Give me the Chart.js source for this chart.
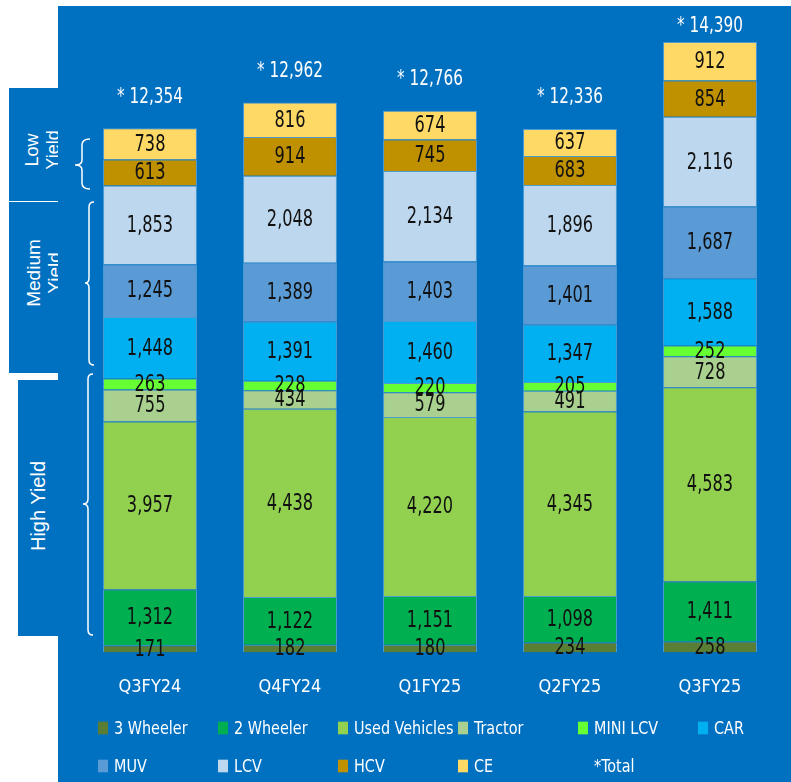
<!DOCTYPE html>
<html>
<head>
<meta charset="utf-8">
<script src="https://cdn.jsdelivr.net/npm/chart.js@4.4.1/dist/chart.umd.min.js"></script>
<style>
  html, body { margin: 0; padding: 0; background: #fff; }
  body { width: 791px; height: 782px; position: relative; overflow: hidden;
         font-family: "DejaVu Sans Condensed", sans-serif; }
  #panel { position: absolute; left: 58px; top: 6px; right: 0; bottom: 0; background: #0070C0; }
  .yield { position: absolute; background: #0070C0; overflow: hidden; color: #fff;
           font-family: "Liberation Sans", Arial, sans-serif; }
  .yield span { position: absolute; transform: translate(-50%, -50%) rotate(-90deg);
                white-space: nowrap; text-align: center; line-height: 21px; }
  #chart { position: absolute; left: 0; top: 0; }
  #brackets { position: absolute; left: 0; top: 0; pointer-events: none; }
  .lg { position: absolute; color: #fff; font-size: 16px; white-space: nowrap;
        transform: translateY(-50%) scaleY(1.15); display: flex; align-items: center; }
  .lg i { display: inline-block; width: 10px; height: 11px; margin-right: 6px; }
</style>
</head>
<body>
<div id="panel"></div>

<div class="yield" style="left:9px;top:88px;width:49px;height:113px;">
  <span style="left:34px;top:62px;font-size:18px;">Low<br>Yield</span>
</div>
<div class="yield" style="left:9px;top:202px;width:49px;height:171px;">
  <span style="left:35px;top:71px;font-size:19px;">Medium<br>Yield</span>
</div>
<div class="yield" style="left:18px;top:380px;width:40px;height:256px;">
  <span style="left:20px;top:126px;font-size:20px;">High Yield</span>
</div>

<canvas id="chart" width="791" height="782"></canvas>

<svg id="brackets" width="791" height="782">
  <g fill="none" stroke="#fff" stroke-width="1.5">
    <path d="M90,139 Q82,139 82,145 L82,160 Q82,165 75,165 Q82,165 82,170 L82,183 Q82,189 90,189"/>
    <path d="M94,202 Q89,202 89,207 L89,278 Q89,283 85,283 Q89,283 89,288 L89,360 Q89,365 94,365"/>
    <path d="M93,374 Q88,374 88,379 L88,499 Q88,504 83,504 Q88,504 88,509 L88,630 Q88,635 93,635"/>
  </g>
</svg>

<div id="legend"></div>

<script>
// values, bottom of the stack first
const categories = ["Q3FY24", "Q4FY24", "Q1FY25", "Q2FY25", "Q3FY25"];
const threeWheeler = [171, 182, 180, 234, 258];
const twoWheeler = [1312, 1122, 1151, 1098, 1411];
const usedVehicles = [3957, 4438, 4220, 4345, 4583];
const tractor = [755, 434, 579, 491, 728];
const miniLcv = [263, 228, 220, 205, 252];
const car = [1448, 1391, 1460, 1347, 1588];
const muv = [1245, 1389, 1403, 1401, 1687];
const lcv = [1853, 2048, 2134, 1896, 2116];
const hcv = [613, 914, 745, 683, 854];
const ce = [738, 816, 674, 637, 912];
const totals = [12354, 12962, 12766, 12336, 14390];

const seriesNames = ["3 Wheeler", "2 Wheeler", "Used Vehicles", "Tractor", "MINI LCV",
                     "CAR", "MUV", "LCV", "HCV", "CE"];
const seriesData = [threeWheeler, twoWheeler, usedVehicles, tractor, miniLcv,
                    car, muv, lcv, hcv, ce];
const seriesColors = ["#5A7E34", "#00B050", "#92D050", "#A9D08E", "#66FF33",
                      "#00B0F0", "#5B9BD5", "#BDD7EE", "#BF9000", "#FFD966"];

const numFont = '"DejaVu Sans Condensed", sans-serif';

function fmt(v) {
  return v.toLocaleString("en-US");
}

// text a bit taller than wide, the original font is narrow
function tallText(ctx, txt, x, y, sy) {
  ctx.save();
  ctx.translate(x, y);
  ctx.scale(1, sy);
  ctx.fillText(txt, 0, 0);
  ctx.restore();
}

// numbers inside the segments + the totals on top
const labelPlugin = {
  id: "segmentLabels",
  afterDatasetsDraw(chart) {
    const ctx = chart.ctx;
    ctx.save();
    ctx.textAlign = "center";
    ctx.textBaseline = "middle";
    ctx.font = "18px " + numFont;
    ctx.fillStyle = "#111";
    chart.data.datasets.forEach((ds, i) => {
      const meta = chart.getDatasetMeta(i);
      meta.data.forEach((el, j) => {
        tallText(ctx, fmt(ds.data[j]), el.x, (el.y + el.base) / 2 + 1, 1.25);
      });
    });

    // totals
    const topMeta = chart.getDatasetMeta(chart.data.datasets.length - 1);
    ctx.font = "17px " + numFont;
    ctx.fillStyle = "#fff";
    topMeta.data.forEach((el, j) => {
      const y = Math.max(el.y - 31, chart.chartArea.top + 11);
      tallText(ctx, "* " + fmt(totals[j]), el.x, y, 1.2);
    });
    ctx.restore();
  }
};

const chart = new Chart(document.getElementById("chart"), {
  type: "bar",
  data: {
    labels: categories,
    datasets: seriesNames.map((name, i) => ({
      label: name,
      data: seriesData[i],
      backgroundColor: seriesColors[i],
      borderColor: "rgba(255,255,255,0.3)",
      borderWidth: 1,
      categoryPercentage: 1,
      barPercentage: 0.671
    }))
  },
  options: {
    responsive: false,
    animation: false,
    layout: { padding: { left: 80, right: 11, top: 16, bottom: 60 } },
    plugins: {
      legend: { display: false },
      tooltip: { enabled: false }
    },
    scales: {
      x: {
        stacked: true,
        grid: { display: false, drawTicks: false },
        border: { display: false },
        ticks: { color: "#fff", padding: 24, font: { family: numFont, size: 18 } }
      },
      y: {
        stacked: true,
        display: false,
        min: 0,
        max: 15000
      }
    }
  },
  plugins: [labelPlugin]
});

// legend in two rows of fixed columns, like the original
const legend = document.getElementById("legend");
const items = chart.data.datasets.map(ds => ({ text: ds.label, color: ds.backgroundColor }));
items.push({ text: "*Total", color: null });
items.forEach((it, i) => {
  const row = Math.floor(i / 6);
  const col = i % 6;
  const d = document.createElement("div");
  d.className = "lg";
  d.style.left = (98 + col * 120) + "px";
  d.style.top = (728 + row * 38) + "px";
  const sq = document.createElement("i");
  if (it.color) sq.style.background = it.color;
  else sq.style.visibility = "hidden";
  d.appendChild(sq);
  d.appendChild(document.createTextNode(it.text));
  legend.appendChild(d);
});
</script>
</body>
</html>
